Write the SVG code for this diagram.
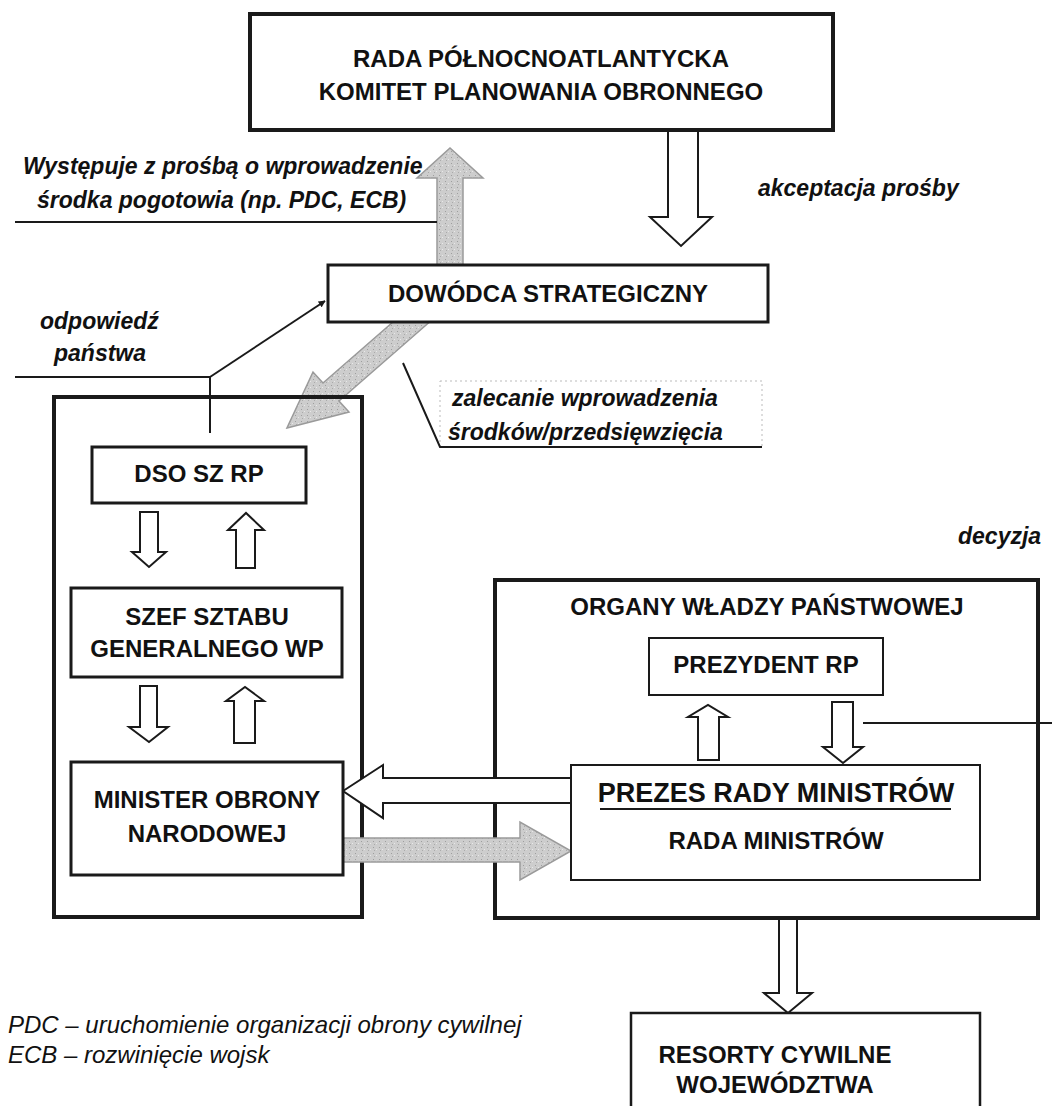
<svg xmlns="http://www.w3.org/2000/svg" width="1052" height="1106" viewBox="0 0 1052 1106">
<defs>
<style>
.box{fill:#fff;stroke:#1a1a1a}
.t{font-family:"Liberation Sans",Arial,sans-serif;font-weight:bold;font-size:24px;fill:#111;text-anchor:middle}
.lbl{font-family:"Liberation Sans",Arial,sans-serif;font-weight:bold;font-style:italic;font-size:23px;fill:#111}
.fn{font-family:"Liberation Sans",Arial,sans-serif;font-style:italic;font-size:24px;fill:#111}
.wa{fill:#fff;stroke:#1a1a1a;stroke-width:2;stroke-linejoin:miter}
.ga{fill:url(#stip);stroke:#9a9a9a;stroke-width:1.5}
.ln{fill:none;stroke:#1a1a1a;stroke-width:2}
</style>
<pattern id="stip" width="6" height="6" patternUnits="userSpaceOnUse">
<rect width="6" height="6" fill="#cdcdcd"/>
<rect x="1" y="1" width="1" height="1" fill="#9e9e9e"/>
<rect x="4" y="3" width="1" height="1" fill="#e8e8e8"/>
<rect x="2" y="4" width="1" height="1" fill="#aaaaaa"/>
</pattern>
<marker id="ah" viewBox="0 0 10 10" refX="9" refY="5" markerWidth="7" markerHeight="7" orient="auto" markerUnits="userSpaceOnUse">
<path d="M0,0 L10,5 L0,10 z" fill="#1a1a1a"/>
</marker>
</defs>
<rect width="1052" height="1106" fill="#fff"/>

<g id="connectors">
<polygon class="ga" points="437,265 437,178 417,178 450,148 483,178 463,178 463,265"/>
<polygon class="wa" points="668,131 698,131 698,217 712,217 681,246 650,217 668,217"/>
<polygon class="ga" points="287,428 349,412 339,401 433,319 417,301 323,383 313,372"/>
<polyline class="ln" points="15,222 437,222"/>
<polyline class="ln" points="15,377 210,377 210,433"/>
<line class="ln" x1="210" y1="377" x2="325" y2="301" marker-end="url(#ah)"/>
<rect x="440" y="381" width="322" height="66" fill="none" stroke="#bbb" stroke-width="1" stroke-dasharray="2,3"/>
<polyline class="ln" points="403,363 440,447 762,447"/>
<polygon class="wa" points="140,512 158,512 158,552 166,552 149,567 132,552 140,552"/>
<polygon class="wa" points="236,568 255,568 255,530 264,530 246,513 228,530 236,530"/>
<polygon class="wa" points="140,686 157,686 157,727 168,727 149,742 129,727 140,727"/>
<polygon class="wa" points="234,743 255,743 255,701 264,701 245,687 226,701 234,701"/>
<polygon class="wa" points="698,760 719,760 719,717 728,717 708,705 688,717 698,717"/>
<polygon class="wa" points="832,702 853,702 853,747 863,747 843,763 823,747 832,747"/>
<line class="ln" x1="863" y1="723" x2="1052" y2="723"/>
<polygon class="wa" points="779,919 797,919 797,993 812,993 788,1013 764,993 779,993"/>
</g>

<g id="n-rada"><rect class="box" x="250" y="14" width="583" height="116" stroke-width="4"/>
<text class="t" x="541" y="67">RADA PÓŁNOCNOATLANTYCKA</text>
<text class="t" x="541" y="100">KOMITET PLANOWANIA OBRONNEGO</text></g>

<g id="n-dowodca"><rect class="box" x="328" y="265" width="440" height="57" stroke-width="3"/>
<text class="t" x="548" y="302">DOWÓDCA STRATEGICZNY</text></g>

<g id="n-left"><rect x="54" y="397" width="308" height="520" fill="none" stroke="#1a1a1a" stroke-width="4"/></g>

<g id="n-dso"><rect class="box" x="92" y="447" width="214" height="56" stroke-width="3"/>
<text class="t" x="199" y="482">DSO SZ RP</text></g>

<g id="n-szef"><rect class="box" x="71" y="588" width="271" height="89" stroke-width="3"/>
<text class="t" x="207" y="625">SZEF SZTABU</text>
<text class="t" x="207" y="657">GENERALNEGO WP</text></g>

<g id="n-organy"><rect x="495" y="580" width="543" height="338" fill="none" stroke="#1a1a1a" stroke-width="4"/>
<text class="t" x="767" y="615">ORGANY WŁADZY PAŃSTWOWEJ</text></g>

<g id="n-prezydent"><rect class="box" x="649" y="638" width="234" height="57" stroke-width="2"/>
<text class="t" x="766" y="673">PREZYDENT RP</text></g>

<g id="arrows-h">
<polygon class="wa" points="343,791 383,765 383,778 571,778 571,803 383,803 383,818"/>
<polygon class="ga" points="343,838 520,838 520,822 571,851 520,880 520,862 343,862"/>
</g>

<g id="n-minister"><rect class="box" x="71" y="762" width="272" height="113" stroke-width="3"/>
<text class="t" x="207" y="808">MINISTER OBRONY</text>
<text class="t" x="207" y="842">NARODOWEJ</text></g>

<g id="n-prezes"><rect class="box" x="571" y="765" width="409" height="115" stroke-width="2"/>
<text class="t" x="776" y="802" style="font-size:27px">PREZES RADY MINISTRÓW</text>
<line x1="600" y1="809" x2="951" y2="809" stroke="#1a1a1a" stroke-width="2"/>
<text class="t" x="776" y="849">RADA MINISTRÓW</text></g>

<g id="n-resorty"><rect class="box" x="631" y="1013" width="349" height="100" stroke-width="2.5"/>
<text class="t" x="775" y="1063">RESORTY CYWILNE</text>
<text class="t" x="775" y="1093">WOJEWÓDZTWA</text></g>

<g id="labels">
<text class="lbl" x="23" y="174">Występuje z prośbą o wprowadzenie</text>
<text class="lbl" x="37" y="208">środka pogotowia (np. PDC, ECB)</text>
<text class="lbl" x="758" y="196">akceptacja prośby</text>
<text class="lbl" x="40" y="329">odpowiedź</text>
<text class="lbl" x="54" y="361">państwa</text>
<text class="lbl" x="452" y="406">zalecanie wprowadzenia</text>
<text class="lbl" x="448" y="440">środków/przedsięwzięcia</text>
<text class="lbl" x="958" y="544">decyzja</text>
<text class="fn" x="8" y="1033">PDC – uruchomienie organizacji obrony cywilnej</text>
<text class="fn" x="8" y="1063">ECB – rozwinięcie wojsk</text>
</g>
</svg>
